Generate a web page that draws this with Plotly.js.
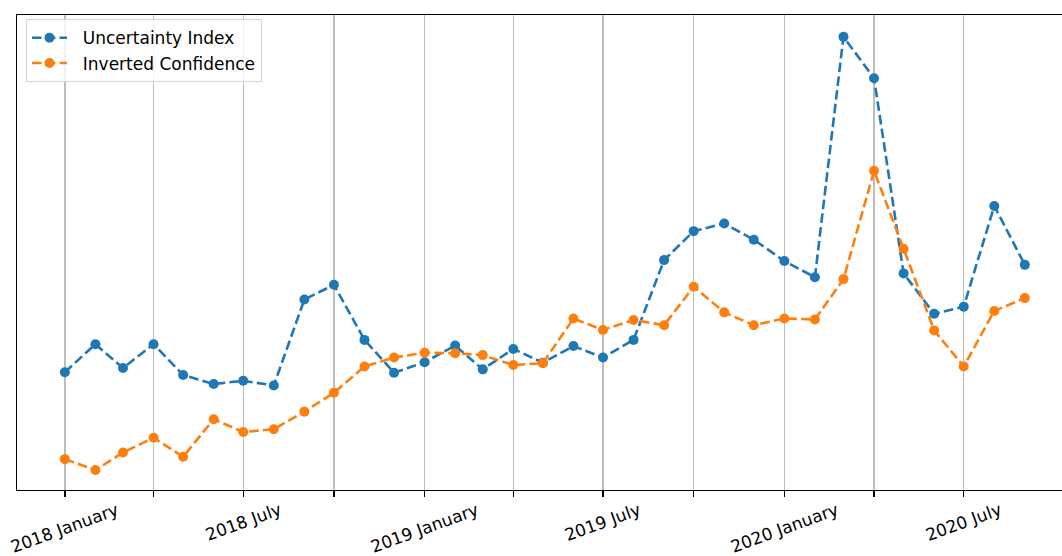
<!DOCTYPE html>
<html>
<head>
<meta charset="utf-8">
<script src="https://cdn.plot.ly/plotly-3.0.1.min.js"></script>
<style>
  html, body { margin: 0; padding: 0; background: #ffffff; }
  #chart { width: 1062px; height: 556px; }
</style>
</head>
<body>
<div id="chart"></div>
<script>
// Monthly observations, January 2018 to September 2020
const months = [
  '2018-01-01','2018-02-01','2018-03-01','2018-04-01','2018-05-01','2018-06-01',
  '2018-07-01','2018-08-01','2018-09-01','2018-10-01','2018-11-01','2018-12-01',
  '2019-01-01','2019-02-01','2019-03-01','2019-04-01','2019-05-01','2019-06-01',
  '2019-07-01','2019-08-01','2019-09-01','2019-10-01','2019-11-01','2019-12-01',
  '2020-01-01','2020-02-01','2020-03-01','2020-04-01','2020-05-01','2020-06-01',
  '2020-07-01','2020-08-01','2020-09-01'
];

const uncertaintyIndex = [
  24.8, 30.7, 25.7, 30.7, 24.2, 22.3, 23.0, 22.0, 40.1, 43.2, 31.6, 24.7,
  26.9, 30.4, 25.4, 29.7, 26.8, 30.3, 27.9, 31.6, 48.4, 54.5, 56.1, 52.7,
  48.2, 44.8, 95.4, 86.7, 45.6, 37.1, 38.6, 59.8, 47.4
];

const invertedConfidence = [
   6.5,  4.2,  7.9, 11.0,  7.0, 14.9, 12.2, 12.8, 16.5, 20.5, 26.0, 27.9,
  28.9, 28.8, 28.4, 26.3, 26.7, 36.1, 33.7, 35.8, 34.7, 42.8, 37.4, 34.7,
  36.1, 35.9, 44.4, 67.2, 50.8, 33.6, 26.0, 37.7, 40.4
];

const seriesNames = ['Uncertainty Index', 'Inverted Confidence'];

// Quarterly ticks; labels only on January and July
const tickVals = [
  '2018-01-01','2018-04-01','2018-07-01','2018-10-01',
  '2019-01-01','2019-04-01','2019-07-01','2019-10-01',
  '2020-01-01','2020-04-01','2020-07-01'
];
const tickLabels = [
  '2018 January','','2018 July','',
  '2019 January','','2019 July','',
  '2020 January','','2020 July'
];

const FONT = 'DejaVu Sans, Liberation Sans, sans-serif';
const BLUE = '#1f77b4';
const ORANGE = '#ff7f0e';

function lineTrace(y, name, color) {
  return {
    x: months, y: y, name: '&nbsp;&nbsp;' + name, type: 'scatter', mode: 'lines+markers',
    line: { color: color, width: 2.6, dash: '9.6px,4.2px' },
    marker: { color: color, size: 10, symbol: 'circle' }
  };
}

const traces = [
  lineTrace(uncertaintyIndex, seriesNames[0], BLUE),
  lineTrace(invertedConfidence, seriesNames[1], ORANGE)
];

const annotations = [];
tickVals.forEach(function (v, i) {
  if (!tickLabels[i]) return;
  annotations.push({
    x: v, xref: 'x', y: 0, yref: 'paper',
    xanchor: 'center', yanchor: 'top', yshift: -8, borderpad: 0,
    text: tickLabels[i], textangle: -20, showarrow: false,
    font: { family: FONT, size: 17, color: '#000000' }
  });
});

const layout = {
  width: 1062, height: 556,
  margin: { l: 17, r: 0, t: 15, b: 66 },
  paper_bgcolor: '#ffffff', plot_bgcolor: '#ffffff',
  font: { family: FONT, size: 17, color: '#000000' },
  showlegend: true,
  legend: {
    x: 0.0086, y: 0.991, xanchor: 'left', yanchor: 'top',
    bgcolor: 'rgba(255,255,255,0.8)', bordercolor: '#d6d6d6', borderwidth: 1,
    font: { family: FONT, size: 17, color: '#000000' },
    itemwidth: 35, tracegroupgap: 0
  },
  xaxis: {
    type: 'date',
    range: ['2017-11-13 10:48', '2020-10-08 17:00'],
    tickmode: 'array', tickvals: tickVals, ticktext: tickLabels,
    showticklabels: false,
    ticks: 'outside', ticklen: 6, tickwidth: 1.3, tickcolor: '#000000',
    showgrid: true, gridcolor: '#bdbdbd', gridwidth: 1.4,
    showline: true, linecolor: '#000000', linewidth: 1.3, mirror: true,
    zeroline: false, automargin: false
  },
  yaxis: {
    range: [0, 100],
    showticklabels: false, ticks: '', showgrid: false, zeroline: false,
    showline: true, linecolor: '#000000', linewidth: 1.3, mirror: false,
    automargin: false
  },
  annotations: annotations
};

Plotly.newPlot('chart', traces, layout, { staticPlot: true, displayModeBar: false });
</script>
</body>
</html>
